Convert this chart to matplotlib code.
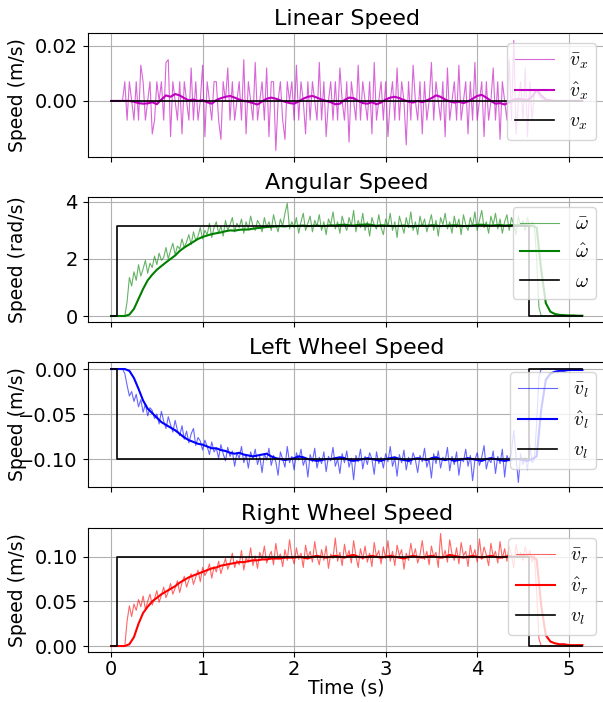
import numpy as np
import matplotlib
matplotlib.use('Agg')
import matplotlib.pyplot as plt

plt.rcParams['mathtext.fontset'] = 'cm'
plt.rcParams['font.family'] = ['DejaVu Sans']

# ---------------- data ----------------
DT_BAR = 0.025   # sampling of measured (bar) signals, s
DT_HAT = 0.05    # sampling of estimated (hat) signals, s

ref_t = [0.0, 0.07, 0.07, 4.57, 4.57, 5.15]
vx_ref = [0.0, 0.0, 0.0, 0.0, 0.0, 0.0]
omega_ref = [0.0, 0.0, 3.14, 3.14, 0.0, 0.0]
vl_ref = [0.0, 0.0, -0.1, -0.1, 0.0, 0.0]
vr_ref = [0.0, 0.0, 0.1, 0.1, 0.0, 0.0]

# measured linear speed, mm/s
vx_bar_mm = [
    0, 0, 0, 0, 0, 0, 7, -7, 7, 0,
    -7, 7, -7, 13, 7, -7, 0, 7, -12, -7,
    7, 0, 7, -7, 14, 15, -13, 7, 0, -7,
    7, -12, 7, 0, -7, 12, -7, 7, -7, 0,
    13, -13, 7, 0, -7, 7, 7, -7, -14, 7,
    0, 12, -7, 7, -7, 0, 7, -7, 15, -12,
    7, 0, -7, 14, -7, 0, 7, -7, 12, -13,
    7, 7, -18, 0, 7, -7, -14, 7, 0, 7,
    -7, 13, -7, 7, 0, -12, 7, -7, 7, 0,
    -7, 14, -7, 7, -13, 0, 7, -7, 7, -7,
    12, 0, -7, 7, -15, 7, 0, -7, 13, -7,
    7, 0, -7, 7, -12, 14, -7, 0, 7, -7,
    7, -13, 0, 7, -7, 12, -7, 7, 0, -16,
    7, -7, 13, 0, -7, 7, -12, 7, -7, 0,
    14, -7, 7, 0, -7, 7, -13, 12, -7, 0,
    7, -7, 13, -7, 0, 7, -12, 7, -7, 14,
    -7, 0, 7, -13, 7, -7, 0, 12, -7, 7,
    -14, 7, 0, -7, 15, -7, 22, -12, 0, 7,
    -7, 12, -13, 7, -7, 3, 4, 2, 1, 0,
    0, 0, 0, 0, 0, 0, 0, 0, 0, 0,
    0, 0, 0, 0, 0, 0, 0]

# estimated linear speed, mm/s
vx_hat_mm = [
    0, 0, 0, 0, 0, -0.3, -0.8, -1.0, -0.9, -0.5,
    -1.2, 0.5, 2.0, 1.5, 2.5, 2.0, 1.0, 0.2, 0.5, 0,
    0.3, -0.5, -1.0, 0.3, 1.0, 1.5, 1.8, 1.2, 0.5, 0,
    -0.3, -0.8, -1.3, -0.2, 0.8, 1.2, 0.8, 0.2, -0.3, -0.8,
    -1.0, -0.2, 0.8, 1.5, 1.8, 1.2, 0.5, 0, -0.5, -1.2,
    -1.0, 0.3, 1.2, 1.0, 0, -0.8, -1.0, -0.5, -1.2, -0.6,
    0.5, 1.2, 1.5, 1.0, 0.3, -0.3, -0.6, 0, -0.5, 0.2,
    1.0, 2.0, 1.5, 0.5, -0.2, -0.6, -0.3, -0.8, -0.2, 0.8,
    1.8, 2.2, 1.2, 0, -1.0, -0.8, -1.3, -0.5, 0.5, 0.8,
    0.5, 0.3, 1.5, 4.0, 2.0, 0.5, 0.2, 0, 0, 0,
    0, 0, 0, 0]

# measured angular speed, rad/s
omega_bar = [
    0, 0, 0, 0, 0, 0, 0, 0.5, 1.35, 1.05,
    1.55, 1.25, 1.8, 1.4, 1.65, 1.95, 1.5, 1.85, 1.7, 2.1,
    1.8, 2.2, 1.95, 2.05, 2.4, 2.0, 2.3, 2.55, 2.15, 2.45,
    2.35, 2.7, 2.4, 2.6, 2.85, 2.5, 2.95, 2.65, 2.8, 3.1,
    2.7, 3.0, 2.85, 3.25, 2.75, 3.1, 3.3, 2.9, 3.15, 2.8,
    3.35, 3.0, 3.2, 3.45, 2.95, 3.25, 3.1, 3.4, 2.9, 3.3,
    3.05, 3.5, 3.15, 3.0, 3.35, 3.2, 2.95, 3.45, 3.1, 3.3,
    3.0, 3.55, 3.2, 2.95, 3.4, 3.15, 3.6, 3.95, 3.05, 3.3,
    3.1, 3.45, 2.9, 3.3, 3.6, 3.0, 3.25, 3.5, 2.95, 3.35,
    3.15, 3.55, 3.0, 3.3, 2.85, 3.4, 3.2, 3.65, 3.05, 3.3,
    2.9, 3.5, 3.2, 3.0, 3.45, 3.15, 3.7, 2.95, 3.35, 3.1,
    3.6, 3.0, 3.3, 2.8, 3.45, 3.2, 3.05, 3.55, 3.1, 2.85,
    3.4, 3.15, 3.6, 3.0, 3.3, 2.75, 3.5, 3.2, 2.9, 3.45,
    3.1, 3.65, 3.0, 3.3, 2.85, 3.5, 3.15, 3.4, 2.95, 3.25,
    3.55, 3.0, 3.35, 2.8, 3.45, 3.2, 3.6, 3.05, 3.3, 2.9,
    3.5, 3.1, 3.4, 2.85, 3.55, 3.2, 3.0, 3.45, 3.15, 3.65,
    3.0, 3.35, 3.7, 3.1, 3.3, 2.9, 3.5, 3.2, 3.6, 3.05,
    3.4, 2.9, 3.3, 3.55, 3.0, 3.45, 3.2, 2.85, 3.5, 3.15,
    3.35, 3.0, 3.45, 3.1, 3.3, 3.2, 2.0, 0.3, 0, 0,
    0, 0, 0, 0, 0, 0, 0, 0, 0, 0,
    0, 0, 0, 0, 0, 0, 0]

# estimated angular speed, rad/s
omega_hat = [
    0, 0, 0, 0, 0.05, 0.25, 0.6, 0.95, 1.25, 1.45,
    1.62, 1.75, 1.88, 2.0, 2.12, 2.28, 2.4, 2.5, 2.6, 2.7,
    2.77, 2.82, 2.87, 2.9, 2.93, 2.97, 3.0, 2.99, 3.02, 3.03,
    3.03, 3.06, 3.08, 3.1, 3.12, 3.13, 3.14, 3.15, 3.14, 3.16,
    3.15, 3.16, 3.17, 3.15, 3.16, 3.17, 3.15, 3.16, 3.18, 3.17,
    3.19, 3.2, 3.18, 3.17, 3.19, 3.2, 3.21, 3.19, 3.16, 3.18,
    3.17, 3.16, 3.15, 3.16, 3.17, 3.15, 3.14, 3.16, 3.17, 3.16,
    3.18, 3.17, 3.15, 3.16, 3.17, 3.18, 3.17, 3.15, 3.16, 3.17,
    3.19, 3.2, 3.18, 3.17, 3.18, 3.19, 3.17, 3.18, 3.19, 3.18,
    3.18, 3.17, 3.16, 3.1, 1.6, 0.45, 0.15, 0.07, 0.04, 0.03,
    0.02, 0.02, 0.01, 0.01]

# measured left wheel speed, mm/s
vl_bar_mm = [
    0, 0, 0, 0, 0, 0, -5, -18, -30, -25,
    -36, -28, -42, -34, -48, -39, -52, -43, -46, -55,
    -50, -61, -47, -58, -66, -53, -62, -70, -57, -68,
    -74, -63, -78, -69, -82, -72, -66, -85, -76, -80,
    -90, -79, -86, -95, -81, -92, -88, -99, -84, -94,
    -102, -87, -97, -91, -108, -93, -99, -86, -104, -95,
    -110, -92, -100, -89, -106, -97, -115, -94, -101, -88,
    -107, -96, -103, -118, -92, -100, -109, -86, -104, -97,
    -112, -93, -101, -89, -107, -99, -120, -95, -103, -88,
    -110, -98, -105, -92, -114, -97, -102, -87, -108, -100,
    -116, -94, -104, -91, -109, -99, -123, -96, -103, -89,
    -111, -97, -106, -93, -100, -117, -92, -105, -98, -110,
    -94, -103, -86, -108, -99, -119, -95, -104, -90, -112,
    -98, -106, -93, -101, -115, -96, -103, -88, -109, -100,
    -121, -94, -105, -91, -110, -98, -102, -87, -113, -97,
    -106, -92, -118, -99, -103, -89, -108, -96, -124, -101,
    -93, -107, -98, -85, -111, -100, -104, -91, -116, -97,
    -105, -89, -120, -96, -102, -92, -68, -99, -126, -94,
    -106, -98, -112, -84, -104, -100, -60, -8, 0, 0,
    0, 0, 0, 0, 0, 0, 0, 0, 0, 0,
    0, 0, 0, 0, 0, 0, 0]

# estimated left wheel speed, mm/s
vl_hat_mm = [
    0, 0, 0, 0, -2, -10, -22, -35, -44, -49,
    -54, -59, -62, -65, -68, -72, -76, -79, -81, -83,
    -84, -86, -88, -88, -90, -91, -93, -94, -93, -95,
    -96, -97, -96, -95, -94, -97, -99, -100, -101, -100,
    -99, -97, -98, -100, -101, -102, -101, -100, -100, -99,
    -98, -99, -101, -102, -101, -100, -99, -100, -101, -102,
    -100, -99, -98, -100, -101, -102, -100, -99, -100, -101,
    -99, -98, -100, -101, -100, -102, -101, -100, -99, -100,
    -101, -102, -100, -99, -100, -101, -102, -101, -100, -100,
    -101, -102, -100, -97, -45, -12, -5, -3, -2, -2,
    -1, -1, -1, -1]

# measured right wheel speed, mm/s
vr_bar_mm = [
    0, 0, 0, 0, 0, 0, 0, 28, 45, 33,
    47, 40, 52, 44, 56, 41, 50, 58, 46, 53,
    62, 49, 57, 66, 54, 61, 70, 58, 65, 73,
    60, 71, 78, 66, 74, 81, 69, 77, 85, 72,
    88, 79, 84, 92, 76, 89, 83, 95, 81, 90,
    98, 86, 93, 104, 88, 96, 91, 107, 85, 99,
    94, 110, 90, 101, 87, 105, 97, 112, 93, 100,
    106, 91, 115, 98, 103, 89, 108, 96, 119, 101,
    92, 110, 97, 104, 88, 113, 99, 106, 94, 117,
    100, 91, 108, 96, 112, 87, 103, 98, 121, 95,
    105, 90, 114, 99, 107, 93, 118, 101, 88, 109,
    97, 112, 94, 104, 89, 116, 100, 107, 92, 111,
    98, 118, 95, 106, 90, 113, 101, 108, 86, 104,
    96, 115, 99, 109, 93, 102, 118, 97, 106, 91,
    112, 100, 105, 88, 126, 98, 107, 94, 119, 103,
    96, 110, 92, 116, 101, 106, 89, 113, 99, 108,
    94, 120, 97, 111, 102, 90, 115, 100, 106, 93,
    117, 98, 109, 95, 112, 101, 88, 114, 99, 105,
    96, 111, 100, 107, 94, 102, 60, 8, 0, 0,
    0, 0, 0, 0, 0, 0, 0, 0, 0, 0,
    0, 0, 0, 0, 0, 0, 0]

# estimated right wheel speed, mm/s
vr_hat_mm = [
    0, 0, 0, 0, 2, 10, 25, 37, 44, 50,
    54, 58, 61, 64, 67, 71, 74, 77, 79, 81,
    83, 85, 87, 88, 90, 91, 92, 93, 94, 94,
    95, 96, 96, 97, 97, 98, 98, 98, 99, 99,
    99, 100, 99, 98, 100, 101, 100, 99, 100, 101,
    100, 99, 101, 102, 100, 99, 100, 101, 100, 99,
    100, 101, 100, 99, 98, 100, 101, 100, 99, 100,
    101, 100, 99, 100, 102, 101, 100, 99, 100, 101,
    100, 99, 100, 101, 100, 99, 100, 101, 100, 100,
    101, 100, 100, 97, 45, 12, 5, 3, 2, 2,
    1, 1, 1, 1]

titles = ["Linear Speed", "Angular Speed", "Left Wheel Speed", "Right Wheel Speed"]
ylabels = ["Speed (m/s)", "Speed (rad/s)", "Speed (m/s)", "Speed (m/s)"]
legend_labels = [
    [r'$\bar{v}_x$', r'$\hat{v}_x$', r'$v_x$'],
    [r'$\bar{\omega}$', r'$\hat{\omega}$', r'$\omega$'],
    [r'$\bar{v}_l$', r'$\hat{v}_l$', r'$v_l$'],
    [r'$\bar{v}_r$', r'$\hat{v}_r$', r'$v_l$'],
]
colors = ['m', 'g', 'b', 'r']

# ---------------- plotting ----------------
def tb(arr):
    return np.arange(len(arr)) * DT_BAR

def th(arr):
    return np.arange(len(arr)) * DT_HAT

series = [
    (np.array(vx_bar_mm) / 1000.0, np.array(vx_hat_mm) / 1000.0, vx_ref),
    (np.array(omega_bar), np.array(omega_hat), omega_ref),
    (np.array(vl_bar_mm) / 1000.0, np.array(vl_hat_mm) / 1000.0, vl_ref),
    (np.array(vr_bar_mm) / 1000.0, np.array(vr_hat_mm) / 1000.0, vr_ref),
]

ylims = [(-0.0204, 0.0247), (-0.21, 4.17), (-0.131, 0.0078), (-0.0067, 0.1322)]
yticks = [[0.0, 0.02], [0, 2, 4], [-0.10, -0.05, 0.0], [0.0, 0.05, 0.10]]
fmt = ['{:.2f}', '{:.0f}', '{:.2f}', '{:.2f}']

fig = plt.figure(figsize=(6.03, 7.02), dpi=100)
W = 603.0
H = 702.0
left_px, right_px = 87.5, 606.0
tops = [33, 197, 362, 528]
bots = [157, 322, 487, 652]
label_x = (27.0 - left_px) / (right_px - left_px)

axes = []
for k in range(4):
    ax = fig.add_axes([left_px / W, 1 - bots[k] / H,
                       (right_px - left_px) / W, (bots[k] - tops[k]) / H],
                      sharex=axes[0] if axes else None)
    axes.append(ax)
    bar, hat, ref = series[k]
    c = colors[k]
    ax.plot(tb(bar), bar, color=c, lw=0.8, alpha=0.6, label=legend_labels[k][0])
    ax.plot(th(hat), hat, color=c, lw=1.5, label=legend_labels[k][1])
    ax.plot(ref_t, ref, color='k', lw=1.2, label=legend_labels[k][2])
    ax.set_title(titles[k], fontsize=16)
    ax.set_ylabel(ylabels[k], fontsize=13.5)
    ax.yaxis.set_label_coords(label_x, 0.5)
    ax.set_ylim(*ylims[k])
    ax.set_yticks(yticks[k])
    ax.set_yticklabels([fmt[k].format(v).replace('-', '\u2212') for v in yticks[k]])
    ax.tick_params(labelsize=14)
    ax.grid(True, color='#b0b0b0', lw=0.8)
    ax.legend(loc='upper right', fontsize=14, framealpha=0.8)
    if k < 3:
        plt.setp(ax.get_xticklabels(), visible=False)

axes[0].set_xlim(-0.2575, 5.4075)
axes[3].set_xticks([0, 1, 2, 3, 4, 5])
axes[3].tick_params(axis='x', pad=2)
axes[3].set_xlabel("Time (s)", fontsize=13.5, labelpad=0)

fig.savefig("out.png", dpi=100)
